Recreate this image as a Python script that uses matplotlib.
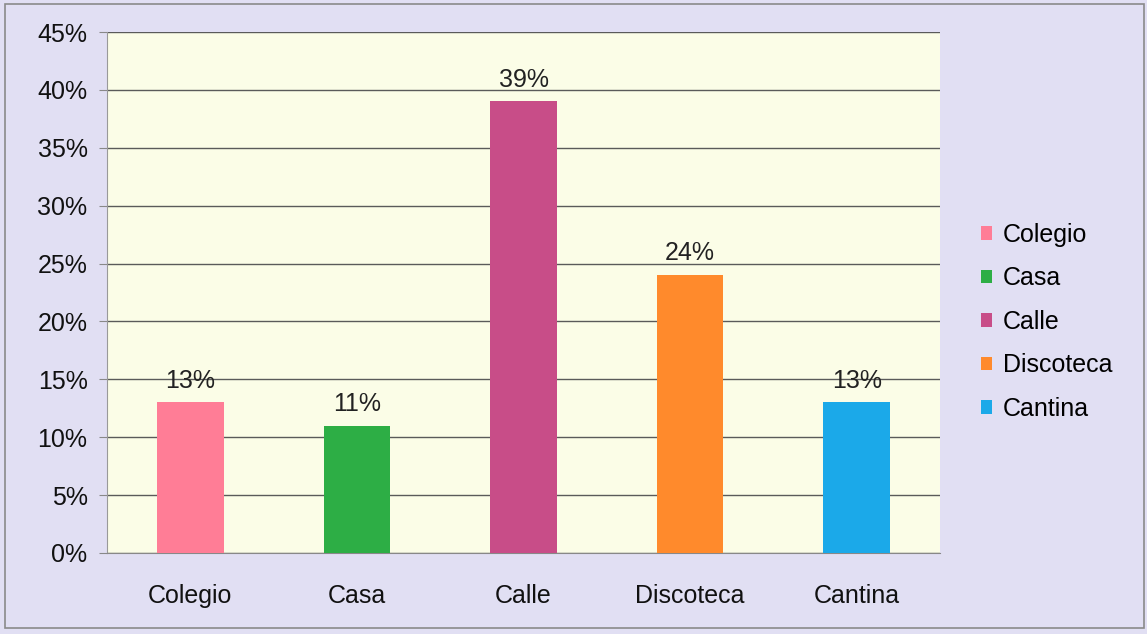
import matplotlib
matplotlib.use("Agg")
import matplotlib.pyplot as plt
from matplotlib.patches import Rectangle, Patch
from matplotlib.ticker import FuncFormatter, MultipleLocator

categories = ["Colegio", "Casa", "Calle", "Discoteca", "Cantina"]
values = [13, 11, 39, 24, 13]
colors = ["#FF7D96", "#2DAE45", "#C84D88", "#FF8A2C", "#1BA9E9"]

plt.rcParams["font.family"] = ["Liberation Sans", "DejaVu Sans"]
FS = 18

W, H = 1147, 634
fig = plt.figure(figsize=(W / 100, H / 100), dpi=100)
fig.patch.set_facecolor("#E1DFF3")
fig.patches.append(Rectangle((5 / W, 6 / H), (W - 8) / W, (H - 10) / H,
                             transform=fig.transFigure, fill=False,
                             edgecolor="#8A8A8A", linewidth=1.2))

left, right, top, bottom = 107, 940, 32, 553
ax = fig.add_axes([left / W, 1 - bottom / H, (right - left) / W, (bottom - top) / H])
ax.set_facecolor("#FBFDE7")

x = list(range(len(categories)))
ax.bar(x, values, width=0.4, color=colors, zorder=3)
for xi, v in zip(x, values):
    ax.annotate(f"{v}%", (xi, v), xytext=(0, 7), textcoords="offset points",
                ha="center", va="bottom", fontsize=FS, color="#222222")

ax.set_xlim(-0.5, len(categories) - 0.5)
ax.set_ylim(0, 45)
ax.yaxis.set_major_locator(MultipleLocator(5))
ax.yaxis.set_major_formatter(FuncFormatter(lambda v, p: f"{v:.0f}%"))
ax.grid(axis="y", color="#5A5A5A", linewidth=1.0, zorder=1)
ax.set_xticks(x)
ax.set_xticklabels(categories)
ax.tick_params(axis="y", length=6, color="#888888", labelsize=FS, pad=8, labelcolor="#111111")
ax.tick_params(axis="x", length=0, labelsize=FS, pad=22, labelcolor="#111111")
for s in ["top", "right"]:
    ax.spines[s].set_visible(False)
ax.spines["left"].set_color("#999999")
ax.spines["bottom"].set_color("#888888")

handles = [Patch(facecolor=c, edgecolor="none") for c in colors]
fig.legend(handles, categories, loc="center left", bbox_to_anchor=(958 / W, 1 - 322 / H),
           frameon=False, fontsize=FS, handlelength=0.45, handleheight=0.45,
           handletextpad=0.45, labelspacing=0.78)

fig.savefig("out.png", dpi=100, facecolor=fig.get_facecolor())
